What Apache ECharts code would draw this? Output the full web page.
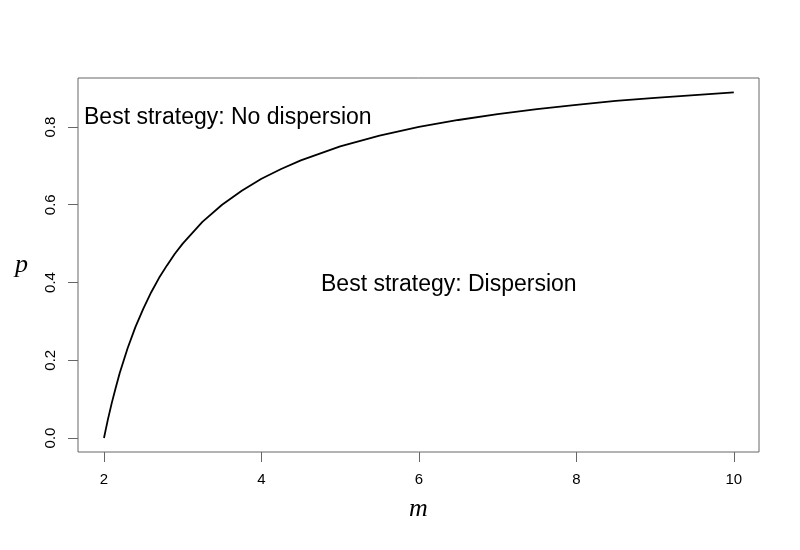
<!DOCTYPE html>
<html>
<head>
  <meta charset="utf-8">
  <title>ECharts</title>
  <script src="https://cdn.jsdelivr.net/npm/echarts@6/dist/echarts.min.js"></script>
</head>
<body style="margin:0">
  <div id="main" style="width:800px;height:550px"></div>
  <script type="text/javascript">
    // points
    var mValues = [2, 2.025, 2.05, 2.1, 2.15, 2.2, 2.3, 2.4, 2.5, 2.6, 2.7, 2.8, 2.9, 3, 3.25, 3.5, 3.75, 4, 4.25, 4.5, 5, 5.5, 6, 6.5, 7, 7.5, 8, 8.5, 9, 9.5, 10];
    var pValues = [0, 0.024, 0.048, 0.091, 0.13, 0.167, 0.231, 0.286, 0.333, 0.375, 0.412, 0.444, 0.474, 0.5, 0.556, 0.6, 0.636, 0.667, 0.692, 0.714, 0.75, 0.778, 0.8, 0.818, 0.833, 0.846, 0.857, 0.867, 0.875, 0.882, 0.889];
    var xTicks = [2, 4, 6, 8, 10];
    var yTicks = [0, 0.2, 0.4, 0.6, 0.8];

    var pts = [];
    for (var i = 0; i < mValues.length; i++) {
      pts.push([mValues[i], pValues[i]]);
    }

    var myChart = echarts.init(document.getElementById('main'));
    var option = {
      animation: false,
      backgroundColor: '#fff',
      grid: {
        left: 78, top: 78, width: 681, height: 374,
        show: true, borderColor: '#666', borderWidth: 1
      },
      xAxis: {
        type: 'value',
        min: 1.67, max: 10.32,
        name: 'm',
        nameLocation: 'middle',
        nameGap: 44,
        nameTextStyle: { fontFamily: 'Liberation Serif', fontStyle: 'italic', fontSize: 26, color: '#000' },
        axisLine: { show: false, onZero: false },
        splitLine: { show: false },
        axisTick: { show: true, inside: false, length: 10, lineStyle: { color: '#666' }, customValues: xTicks },
        axisLabel: {
          customValues: xTicks, margin: 20,
          fontFamily: 'Liberation Sans', fontSize: 15, color: '#000'
        }
      },
      yAxis: {
        type: 'value',
        min: -0.036, max: 0.926,
        name: 'p',
        nameLocation: 'middle',
        nameRotate: 0,
        nameGap: 50,
        nameTextStyle: { fontFamily: 'Liberation Serif', fontStyle: 'italic', fontSize: 26, color: '#000' },
        axisLine: { show: false, onZero: false },
        splitLine: { show: false },
        axisTick: { show: true, length: 10, lineStyle: { color: '#666' }, customValues: yTicks },
        axisLabel: {
          customValues: yTicks, margin: 20, rotate: 90,
          fontFamily: 'Liberation Sans', fontSize: 15, color: '#000',
          formatter: function (v) { return v.toFixed(1); }
        }
      },
      graphic: [
        { type: 'text', left: 84, top: 106, style: { text: 'Best strategy: No dispersion', font: '23px "Liberation Sans"', fill: '#000' } },
        { type: 'text', left: 321, top: 273, style: { text: 'Best strategy: Dispersion', font: '23px "Liberation Sans"', fill: '#000' } }
      ],
      series: [{
        type: 'line',
        data: pts,
        showSymbol: false,
        smooth: false,
        lineStyle: { color: '#000', width: 1.8 }
      }]
    };
    myChart.setOption(option);
  </script>
</body>
</html>
